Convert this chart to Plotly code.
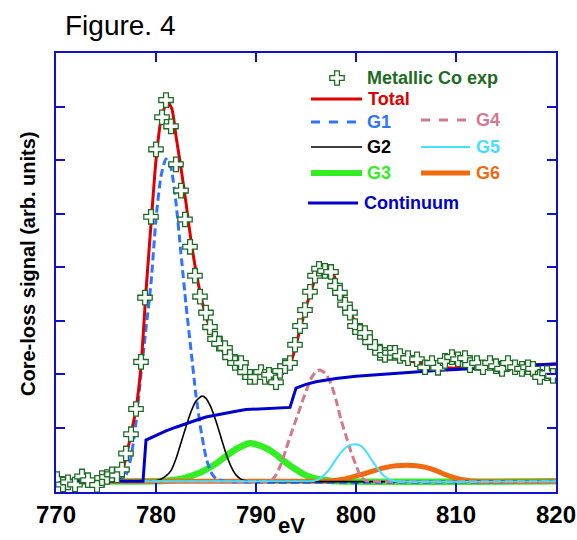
import plotly.graph_objects as go

# ---------------- data ----------------
exp_x = [770.1, 770.7, 771.2, 771.9, 772.6, 773.2, 774.1, 774.6, 775.1, 775.6, 776.1, 776.6,
         777.0, 777.5, 778.0, 778.5, 778.9, 779.5, 780.0, 780.6, 781.0, 781.5, 782.0, 782.5,
         782.9, 783.4, 783.9, 784.4, 785.0, 785.4, 785.9, 786.3, 786.9, 787.4, 787.9, 788.5,
         788.9, 789.4, 789.9, 790.5, 790.9, 791.3, 792.0, 792.4, 792.9, 793.4, 793.9, 794.4,
         794.9, 795.4, 795.9, 796.3, 796.9, 797.5, 797.9, 798.4, 798.9, 799.4, 799.9, 800.4,
         800.9, 801.4, 801.9, 802.4, 802.9, 803.4, 803.9, 804.4, 805.2, 806.1, 806.9, 807.6,
         808.2, 808.9, 809.6, 810.2, 810.9, 811.4, 812.1, 812.7, 813.4, 814.0, 814.6, 815.2,
         815.9, 816.6, 817.2, 817.7, 818.4, 819.1, 819.7]
exp_y = [0.04, -0.06, -0.02, -0.06, 0.09, 0.02, -0.07, 0.06, 0.08, 0.13, 0.11, 0.22,
         0.52, 0.88, 1.35, 2.23, 3.43, 4.94, 6.20, 6.80, 7.12, 6.63, 5.92, 5.43,
         4.89, 4.38, 3.84, 3.45, 3.15, 2.88, 2.66, 2.57, 2.49, 2.32, 2.21, 2.21,
         2.04, 1.95, 1.95, 2.04, 1.95, 1.99, 1.85, 2.06, 2.15, 2.21, 2.55, 2.90,
         3.20, 3.54, 3.84, 3.97, 3.93, 3.91, 3.65, 3.52, 3.30, 3.15, 2.90, 2.79,
         2.77, 2.60, 2.51, 2.40, 2.36, 2.40, 2.40, 2.34, 2.30, 2.28, 2.13, 2.21,
         2.12, 2.25, 2.32, 2.28, 2.30, 2.17, 2.21, 2.13, 2.21, 2.15, 2.10, 2.21,
         2.13, 2.10, 2.13, 2.10, 1.95, 2.02, 1.97]

total_x = [770, 772, 774, 775, 776, 776.5, 777, 777.5, 778, 778.5, 779, 779.5, 780, 780.5,
           781, 781.2, 781.6, 782, 782.5, 783, 783.5, 784, 784.5, 785, 785.5, 786, 787, 788,
           789, 790, 791, 792, 792.5, 793, 793.5, 794, 794.5, 795, 795.5, 796, 796.5, 797,
           797.5, 798, 798.5, 799, 799.5, 800, 800.5, 801, 801.5, 802, 803, 804, 805, 806,
           807, 808, 809, 810, 812, 814, 816, 818, 820]
total_y = [0.0, 0.0, 0.0, 0.01, 0.03, 0.1, 0.45, 0.88, 1.35, 2.15, 3.55, 4.8, 6.0, 6.75,
           7.05, 7.08, 6.95, 6.45, 5.85, 5.2, 4.5, 3.92, 3.45, 3.08, 2.82, 2.62, 2.36, 2.18,
           2.08, 2.0, 1.96, 1.96, 1.98, 2.08, 2.22, 2.55, 2.9, 3.25, 3.55, 3.82, 3.98, 4.02,
           3.95, 3.75, 3.52, 3.3, 3.12, 2.95, 2.8, 2.66, 2.56, 2.48, 2.37, 2.3, 2.26, 2.22,
           2.18, 2.14, 2.12, 2.11, 2.12, 2.14, 2.16, 2.18, 2.19]

g1_x = [770, 775, 776, 776.5, 777, 777.5, 778, 778.5, 779, 779.5, 780, 780.5, 781, 781.5,
        782, 782.5, 783, 783.5, 784, 784.5, 785, 785.5, 786, 787, 820]
g1_y = [0, 0, 0.02, 0.05, 0.12, 0.45, 1.1, 2.0, 2.85, 3.7, 4.9, 5.7, 6.02, 5.85,
        5.2, 4.25, 3.3, 2.45, 1.6, 0.95, 0.45, 0.17, 0.05, 0, 0]

g2_x = [770, 779.5, 780, 780.5, 781, 781.5, 782, 782.5, 783, 783.5, 784, 784.6, 785, 785.5,
        786, 786.5, 787, 787.5, 788, 788.5, 789, 789.5, 820]
g2_y = [0, 0, 0.01, 0.04, 0.1, 0.2, 0.42, 0.72, 1.02, 1.3, 1.5, 1.59, 1.55, 1.38,
        1.12, 0.82, 0.52, 0.28, 0.12, 0.04, 0.01, 0, 0]

g3_x = [770, 780, 781, 782, 783, 784, 785, 786, 787, 788, 789, 789.4, 790, 791, 792, 793,
        794, 795, 796, 797, 798, 820]
g3_y = [0, 0, 0.01, 0.03, 0.07, 0.13, 0.22, 0.33, 0.47, 0.6, 0.69, 0.71, 0.69, 0.62, 0.5,
        0.35, 0.22, 0.11, 0.05, 0.02, 0, 0]

g4_x = [770, 791, 791.5, 792, 792.5, 793, 793.5, 794, 794.5, 795, 795.5, 796, 796.4, 797,
        797.5, 798, 798.5, 799, 799.5, 800, 800.5, 801, 801.5, 820]
g4_y = [0, 0, 0.01, 0.12, 0.32, 0.6, 0.88, 1.15, 1.42, 1.68, 1.92, 2.05, 2.08, 2.0,
        1.82, 1.52, 1.15, 0.85, 0.55, 0.3, 0.08, 0.01, 0, 0]

g5_x = [770, 795, 795.5, 796, 796.5, 797, 797.5, 798, 798.5, 799, 799.5, 799.9, 800.5, 801,
        801.5, 802, 802.5, 803, 803.5, 804, 820]
g5_y = [0, 0, 0, 0.02, 0.06, 0.15, 0.27, 0.41, 0.54, 0.63, 0.68, 0.69, 0.66, 0.56,
        0.42, 0.28, 0.16, 0.07, 0.02, 0, 0]

g6_x = [770, 796, 797, 798, 799, 800, 801, 802, 803, 804, 805.1, 806, 807, 808, 809, 810,
        811, 812, 820]
g6_y = [0, 0, 0, 0.02, 0.05, 0.1, 0.15, 0.21, 0.26, 0.29, 0.30, 0.29, 0.26, 0.2, 0.12, 0.06,
        0.02, 0, 0]

cont_x = [770, 778.7, 779.0, 780, 781, 782, 783, 784, 785, 786, 787, 788, 789, 790, 791, 792,
          793.4, 794.0, 795, 796, 797, 798, 800, 802, 804, 806, 808, 810, 812, 814, 816,
          818, 820]
cont_y = [0, 0, 0.77, 0.86, 0.94, 1.01, 1.08, 1.14, 1.2, 1.24, 1.28, 1.31, 1.34, 1.35, 1.36,
          1.37, 1.38, 1.74, 1.81, 1.86, 1.89, 1.92, 1.96, 1.99, 2.01, 2.04, 2.07, 2.09, 2.11,
          2.13, 2.15, 2.17, 2.19]

x_ticks = [770, 780, 790, 800, 810, 820]
y_ticks = [1, 2, 3, 4, 5, 6, 7]

# ---------------- styles ----------------
C_TOTAL = "#e00000"
C_G1 = "#2f74ff"
C_G2 = "#000000"
C_G3 = "#33ee22"
C_G4 = "#d4788f"
C_G5 = "#44e0ff"
C_G6 = "#f06a10"
C_CONT = "#0000cc"
C_EXP = "#1c6b25"
C_AXIS = "#1010d0"
FONT = "Liberation Sans, Arial, sans-serif"

W, H = 577, 540
L, R, T, B = 56, 21, 53, 48
PW, PH = W - L - R, H - T - B


def px(xp):
    return (xp - L) / PW


def py(yp):
    return (H - B - yp) / PH


fig = go.Figure()

def add_line(x, y, color, width, dash="solid", shape="spline"):
    fig.add_trace(go.Scatter(x=x, y=y, mode="lines", showlegend=False, hoverinfo="skip",
                             line=dict(color=color, width=width, dash=dash, shape=shape,
                                       smoothing=0.6 if shape == "spline" else None)))

add_line(g3_x, g3_y, C_G3, 6.5)
add_line(g6_x, g6_y, C_G6, 5)
add_line(g1_x, g1_y, C_G1, 3, dash="8px,4px")
add_line(g2_x, g2_y, C_G2, 1.6)
add_line(g4_x, g4_y, C_G4, 3, dash="8px,4px")
add_line(g5_x, g5_y, C_G5, 2)
add_line(total_x, total_y, C_TOTAL, 3)
add_line(cont_x, cont_y, C_CONT, 3, shape="linear")

fig.add_trace(go.Scatter(x=exp_x, y=exp_y, mode="markers", showlegend=False,
                         marker=dict(symbol="cross", size=12, color="white",
                                     line=dict(color=C_EXP, width=1.3))))

# legend marker sample on an overlay axis (paper-like 0..1)
fig.add_trace(go.Scatter(x=[px(337)], y=[py(78)], xaxis="x2", yaxis="y2", mode="markers",
                         showlegend=False,
                         marker=dict(symbol="cross", size=12, color="white",
                                     line=dict(color=C_EXP, width=1.3))))

# ---------------- manual legend ----------------
leg = [
    # (x0, x1, y, color, width, dash, label, text_x)
    (311, 362, 99, C_TOTAL, 3, "solid", "Total", 366),
    (311, 362, 122, C_G1, 3, "dash", "G1", 365),
    (421, 470, 120, C_G4, 3, "dash", "G4", 474),
    (311, 362, 147, C_G2, 1.6, "solid", "G2", 365),
    (421, 470, 147, C_G5, 2, "solid", "G5", 474),
    (311, 362, 173, C_G3, 6, "solid", "G3", 365),
    (421, 470, 173, C_G6, 5, "solid", "G6", 474),
    (308, 358, 203, C_CONT, 3, "solid", "Continuum", 362),
]
shapes = []
annotations = []
for x0, x1, yy, col, wd, ds, lab, tx in leg:
    shapes.append(dict(type="line", xref="paper", yref="paper", x0=px(x0), x1=px(x1),
                       y0=py(yy), y1=py(yy), line=dict(color=col, width=wd, dash=ds)))
    annotations.append(dict(xref="paper", yref="paper", x=px(tx), y=py(yy), xanchor="left",
                            yanchor="middle", showarrow=False, text="<b>%s</b>" % lab,
                            font=dict(family=FONT, size=18, color=col)))
annotations.append(dict(xref="paper", yref="paper", x=px(365), y=py(78), xanchor="left",
                        yanchor="middle", showarrow=False, text="<b>Metallic Co exp</b>",
                        font=dict(family=FONT, size=18, color=C_EXP)))

# title and axis titles
annotations.append(dict(xref="paper", yref="paper", x=px(63), y=py(26), xanchor="left",
                        yanchor="middle", showarrow=False, text="Figure. 4",
                        font=dict(family=FONT, size=28, color="black")))
annotations.append(dict(xref="paper", yref="paper", x=px(291), y=py(540), xanchor="center",
                        yanchor="bottom", showarrow=False, text="<b>eV</b>",
                        font=dict(family=FONT, size=22, color="black")))
annotations.append(dict(xref="paper", yref="paper", x=px(28), y=py(264), xanchor="center",
                        yanchor="middle", showarrow=False, textangle=-90,
                        text="<b>Core-loss signal (arb. units)</b>",
                        font=dict(family=FONT, size=20, color="black")))

axis_common = dict(showgrid=False, zeroline=False, showline=True, linecolor=C_AXIS,
                   linewidth=1.5, mirror="ticks", ticks="inside", ticklen=9,
                   tickcolor=C_AXIS, tickwidth=1.5, automargin=False)

fig.update_layout(
    width=W, height=H,
    margin=dict(l=L, r=R, t=T, b=B, autoexpand=False),
    paper_bgcolor="white", plot_bgcolor="white",
    showlegend=False,
    xaxis=dict(range=[770, 820], tickvals=x_ticks, ticktext=[str(v) for v in x_ticks],
               tickfont=dict(family=FONT, size=24, color="black", weight="bold"),
               **axis_common),
    yaxis=dict(range=[-0.2, 8.0], tickvals=y_ticks, showticklabels=False, **axis_common),
    xaxis2=dict(range=[0, 1], overlaying="x", visible=False),
    yaxis2=dict(range=[0, 1], overlaying="y", visible=False),
    shapes=shapes,
    annotations=annotations,
)

fig.write_html("out.html")
